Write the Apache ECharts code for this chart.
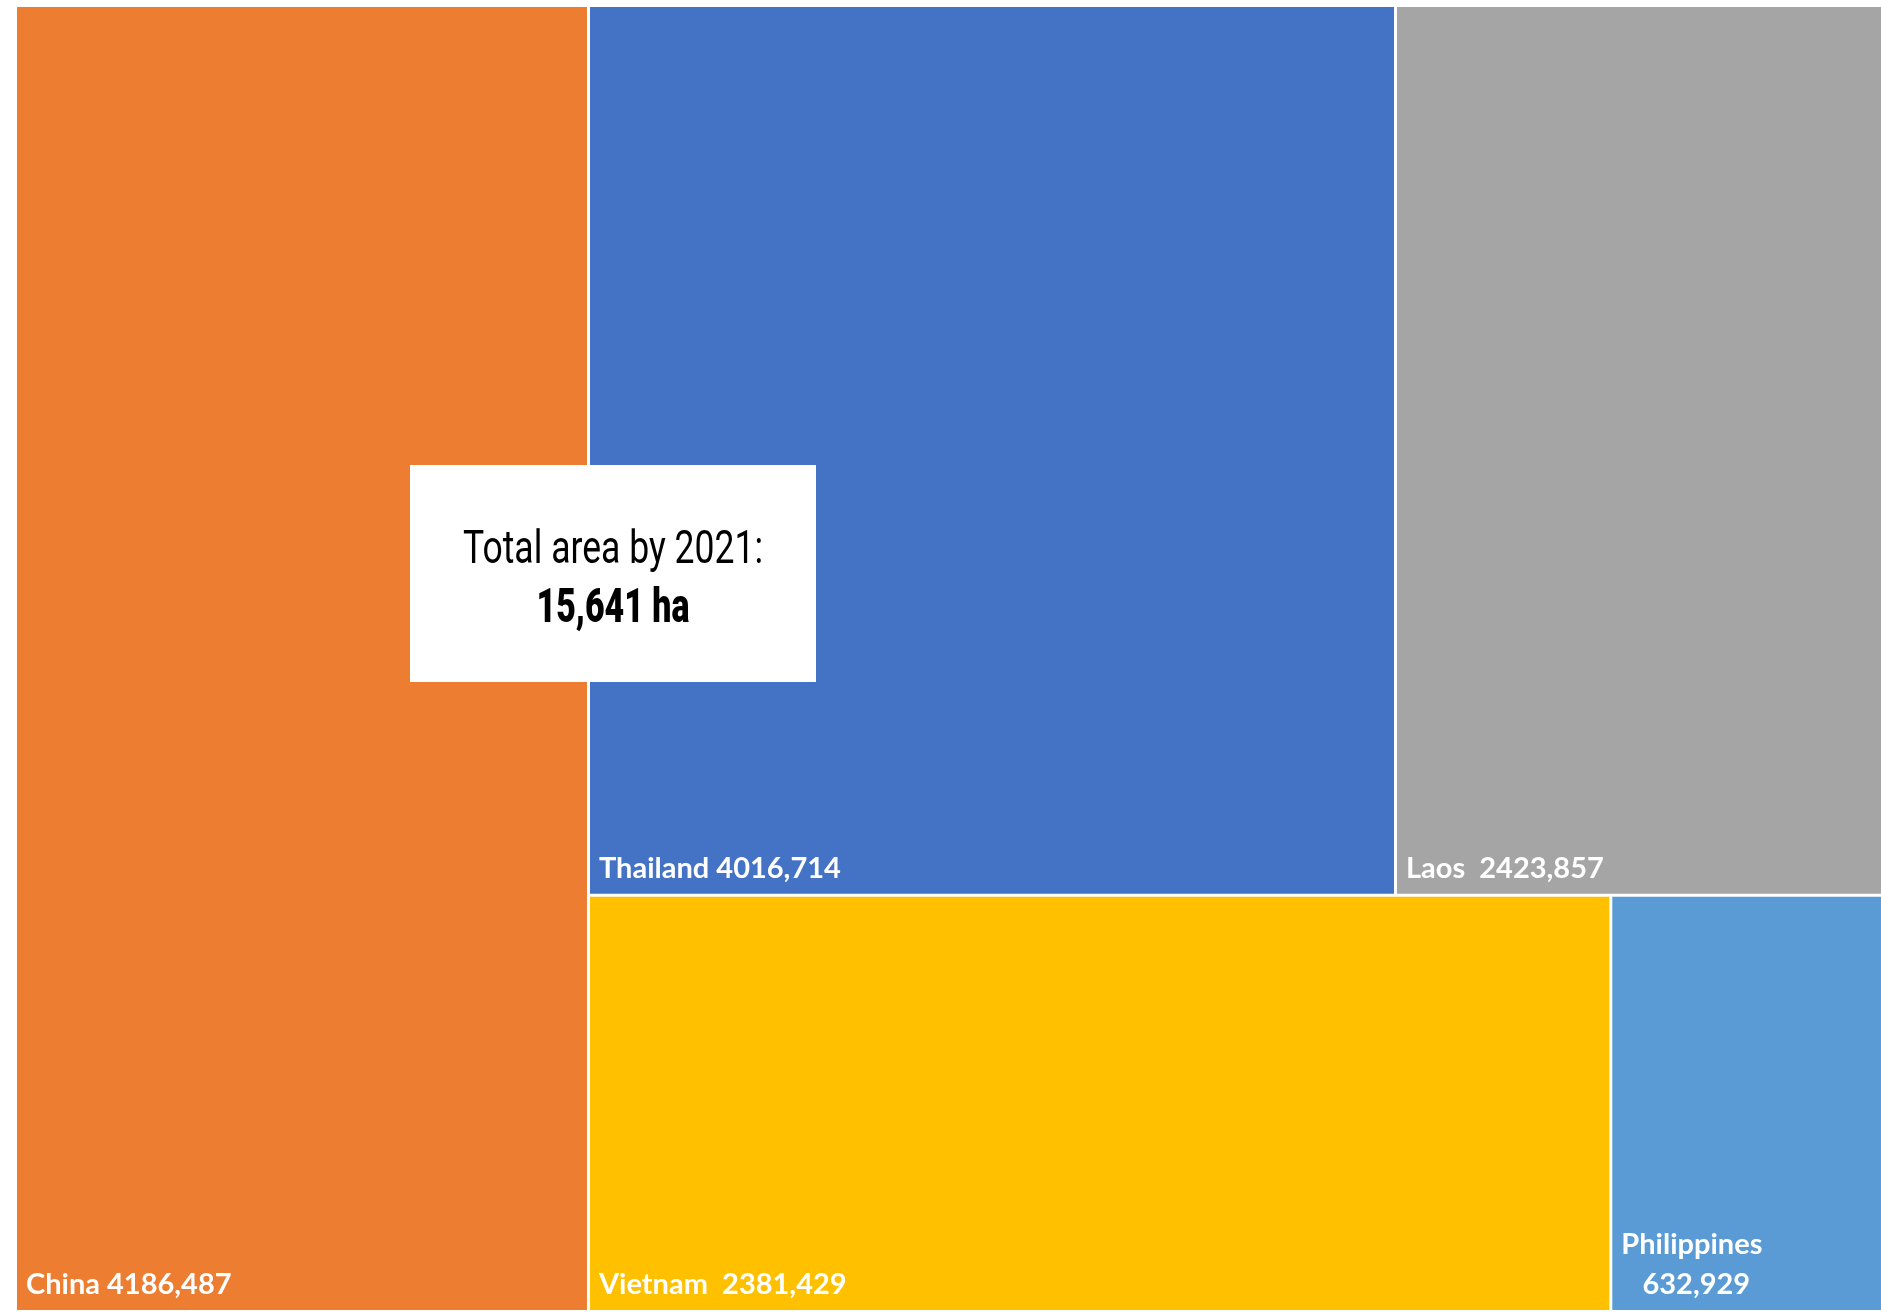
<!DOCTYPE html>
<html>
<head>
<meta charset="utf-8">
<script src="https://cdn.jsdelivr.net/npm/echarts@6/dist/echarts.min.js"></script>
<style>
html,body{margin:0;padding:0;background:#fff;}
#main{width:1881px;height:1312px;}
</style>
</head>
<body>
<div id="main"></div>
<script>
// ---- data ----
const countries = ['China', 'Thailand', 'Laos', 'Vietnam', 'Philippines'];
const areas = [4186487, 4016714, 2423857, 2381429, 632929];
const areaLabels = ['4186,487', '4016,714', '2423,857', '2381,429', '632,929'];
const labelSeparators = [' ', ' ', '  ', '  ', '\n   '];
const colors = ['#ED7D31', '#4472C4', '#A5A5A5', '#FFC000', '#5B9BD5'];
const totalTitle = 'Total area by 2021:';
const totalValue = '15,641 ha';

function leaf(i) {
  return {
    name: countries[i],
    value: areas[i],
    itemStyle: { color: colors[i] },
    label: { formatter: countries[i] + labelSeparators[i] + areaLabels[i] }
  };
}

// grouping that gives the layout of the picture
const treeData = [
  leaf(0),
  {
    name: 'rest',
    children: [
      { name: 'top', children: [leaf(1), leaf(2)] },
      { name: 'bottom', children: [leaf(3), leaf(4)] }
    ]
  }
];

// measure text to condense it like the reference's narrow font
const cv = document.createElement('canvas').getContext('2d');
function scaleFor(text, font, target) {
  cv.font = font;
  return target / cv.measureText(text).width;
}
const f1 = 'normal 46px Roboto';
const f2 = '900 49px Roboto';
const s1 = scaleFor(totalTitle, f1, 300);
const s2 = scaleFor(totalValue, f2, 153);

const chart = echarts.init(document.getElementById('main'));
chart.setOption({
  animation: false,
  series: [{
    type: 'treemap',
    left: 17, top: 7, width: 1864, height: 1303,
    roam: false,
    nodeClick: false,
    sort: false,
    squareRatio: 1,
    breadcrumb: { show: false },
    itemStyle: { borderWidth: 0, gapWidth: 3, borderColor: '#fff' },
    upperLabel: { show: false },
    label: {
      show: true,
      position: 'insideBottomLeft',
      distance: 0,
      padding: [0, 0, 5, 9],
      color: '#fff',
      fontFamily: 'Lato',
      fontWeight: 'bold',
      fontSize: 29,
      lineHeight: 40
    },
    data: treeData
  }],
  graphic: [
    { type: 'rect', z: 100, shape: { x: 410, y: 465, width: 406, height: 217 }, style: { fill: '#fff' } },
    { type: 'text', z: 101, x: 613, y: 551, scaleX: s1,
      style: { text: totalTitle, font: f1, fill: '#000', textAlign: 'center', textVerticalAlign: 'middle' } },
    { type: 'text', z: 101, x: 613, y: 610, scaleX: s2,
      style: { text: totalValue, font: f2, fill: '#000', textAlign: 'center', textVerticalAlign: 'middle' } }
  ]
});
</script>
</body>
</html>
